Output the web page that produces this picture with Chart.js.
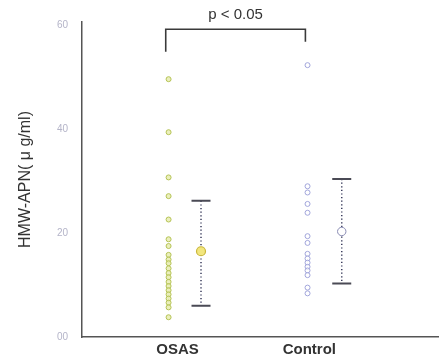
<!DOCTYPE html>
<html>
<head>
<meta charset="utf-8">
<script src="https://cdn.jsdelivr.net/npm/chart.js@4.4.1/dist/chart.umd.min.js"></script>
<style>
  html, body { margin: 0; padding: 0; background: #fff; }
  #wrap { width: 444px; height: 361px; position: relative; }
</style>
</head>
<body>
<div id="wrap"><canvas id="chart"></canvas></div>
<script>
// ---- data ----
const categories = ['OSAS', 'Control'];
const osasValues = [49.6, 39.4, 30.7, 27.1, 22.6, 18.8, 17.5, 15.8, 14.9, 14.2, 13.2,
                    12.3, 11.5, 10.6, 9.8, 9.0, 8.2, 7.4, 6.6, 5.7, 3.8];
const controlValues = [52.3, 29.0, 27.8, 25.6, 23.9, 19.4, 18.1, 16.0, 15.1, 14.3,
                       13.5, 12.8, 11.9, 9.5, 8.4];
const groupMeans = [16.5, 20.3];
const groupUpper = [26.2, 30.4];
const groupLower = [6.0, 10.3];
const yTickValues = [0, 20, 40, 60];
const yTickLabels = ['00', '20', '40', '60'];
const bracketLevels = [54.9, 59.2, 56.8];   // left foot, top, right foot
const pLabel = 'p < 0.05';

// ---- layout (x axis runs 0..10) ----
const pointX = [2.43, 6.33];
const barX = [3.34, 7.29];
const labelX = [2.68, 6.38];
const FONT = "'Liberation Sans', Arial, sans-serif";

const bracketData = [
    { x: pointX[0] - 0.08, y: bracketLevels[0] },
    { x: pointX[0] - 0.08, y: bracketLevels[1] },
    { x: pointX[1] - 0.06, y: bracketLevels[1] },
    { x: pointX[1] - 0.06, y: bracketLevels[2] }
];

// white background + error bars + p label
const extras = {
    id: 'extras',
    beforeDraw(chart) {
        const c = chart.ctx;
        c.save();
        c.fillStyle = '#fff';
        c.fillRect(0, 0, chart.width, chart.height);
        c.restore();
    },
    beforeDatasetsDraw(chart) {
        const c = chart.ctx, xs = chart.scales.x, ys = chart.scales.y;
        c.save();
        for (let i = 0; i < categories.length; i++) {
            const px = xs.getPixelForValue(barX[i]);
            const top = ys.getPixelForValue(groupUpper[i]);
            const bot = ys.getPixelForValue(groupLower[i]);
            // dotted stem
            c.strokeStyle = '#3a3c5c';
            c.lineWidth = 1.5;
            c.setLineDash([1.2, 2.4]);
            c.beginPath();
            c.moveTo(px, top);
            c.lineTo(px, bot);
            c.stroke();
            // caps
            c.setLineDash([]);
            c.strokeStyle = '#4a4a55';
            c.lineWidth = 2;
            c.beginPath();
            c.moveTo(px - 9.5, top); c.lineTo(px + 9.5, top);
            c.moveTo(px - 9.5, bot); c.lineTo(px + 9.5, bot);
            c.stroke();
        }
        c.restore();
    },
    afterDraw(chart) {
        const c = chart.ctx, xs = chart.scales.x, ys = chart.scales.y;
        const cx = (xs.getPixelForValue(bracketData[1].x) + xs.getPixelForValue(bracketData[2].x)) / 2;
        const y = ys.getPixelForValue(bracketLevels[1]) - 10;
        c.save();
        c.fillStyle = '#333';
        c.font = '15px ' + FONT;
        c.textAlign = 'center';
        c.textBaseline = 'alphabetic';
        c.fillText(pLabel, cx, y);
        c.restore();
    }
};

const ctx = document.getElementById('chart');
new Chart(ctx, {
    type: 'scatter',
    data: {
        datasets: [
            {
                label: categories[0],
                data: osasValues.map(v => ({ x: pointX[0], y: v })),
                pointRadius: 2.5,
                borderWidth: 1,
                borderColor: '#b6c456',
                backgroundColor: 'rgba(226,232,160,0.7)'
            },
            {
                label: categories[1],
                data: controlValues.map(v => ({ x: pointX[1], y: v })),
                pointRadius: 2.5,
                borderWidth: 1,
                borderColor: '#a2a6dc',
                backgroundColor: 'rgba(255,255,255,0.6)'
            },
            {
                label: 'OSAS mean',
                data: [{ x: barX[0], y: groupMeans[0] }],
                pointRadius: 4.5,
                borderWidth: 1.2,
                borderColor: '#c9b63a',
                backgroundColor: '#f2e67e'
            },
            {
                label: 'Control mean',
                data: [{ x: barX[1], y: groupMeans[1] }],
                pointRadius: 4.2,
                borderWidth: 1,
                borderColor: '#8a8cb4',
                backgroundColor: '#fff'
            },
            {
                label: 'Control mean dot',
                data: [{ x: barX[1], y: groupMeans[1] }],
                pointRadius: 1,
                borderWidth: 0,
                backgroundColor: '#555a80'
            },
            {
                type: 'line',
                label: 'bracket',
                data: bracketData,
                borderColor: '#3a3a3a',
                borderWidth: 1.6,
                pointRadius: 0,
                fill: false,
                tension: 0
            }
        ]
    },
    options: {
        responsive: true,
        maintainAspectRatio: false,
        animation: false,
        layout: { padding: { top: 22, right: 0, bottom: 0, left: 0 } },
        plugins: { legend: { display: false }, tooltip: { enabled: false } },
        scales: {
            x: {
                type: 'linear',
                min: 0,
                max: 10,
                afterFit: s => { s.height = 24; },
                afterBuildTicks: s => { s.ticks = labelX.map(v => ({ value: v })); },
                grid: { display: true, drawOnChartArea: false, drawTicks: false },
                border: { display: true, color: '#555', width: 1.5 },
                ticks: {
                    autoSkip: false,
                    maxRotation: 0,
                    padding: 4,
                    color: '#333',
                    font: { family: FONT, size: 15, weight: 'bold' },
                    callback: (val, i) => categories[i]
                }
            },
            y: {
                min: 0,
                max: 60.6,
                afterFit: s => { s.width = 82; },
                afterBuildTicks: s => { s.ticks = yTickValues.map(v => ({ value: v })); },
                grid: { display: true, drawOnChartArea: false, drawTicks: false },
                border: { display: true, color: '#555', width: 1.5 },
                ticks: {
                    padding: 14,
                    color: '#b4b4c8',
                    font: { family: FONT, size: 10 },
                    callback: (val, i) => yTickLabels[i]
                },
                title: {
                    display: true,
                    text: 'HMW-APN( μ g/ml)',
                    color: '#333',
                    padding: { top: 16, bottom: 0 },
                    font: { family: FONT, size: 16 }
                }
            }
        }
    },
    plugins: [extras]
});
</script>
</body>
</html>
